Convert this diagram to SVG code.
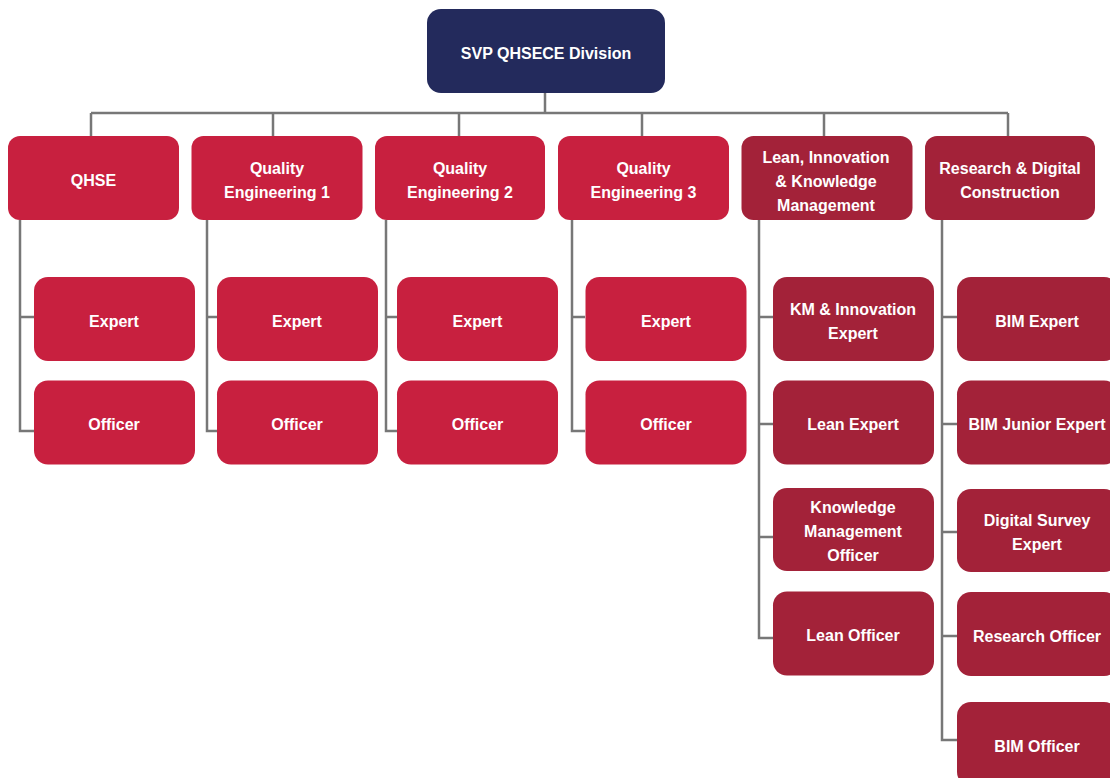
<svg xmlns="http://www.w3.org/2000/svg" width="1110" height="778" viewBox="0 0 1110 778">
<style>
.top{fill:#232a5c}
.red{fill:#c8203f}
.dark{fill:#a32239}
.t{font-family:"Liberation Sans",Arial,sans-serif;font-weight:700;font-size:16px;fill:#ffffff;text-anchor:middle;dominant-baseline:central}
.c{fill:none;stroke:#777777;stroke-width:2.5}
</style>
<rect width="1110" height="778" fill="#ffffff"/>
<g id="connectors">
<path class="c" d="M545,93V113M91,113H1008M91,113V136M273,113V136M459,113V136M642,113V136M824,113V136M1008,113V136"/>
<path class="c" d="M20,220V431H34M20,317H34"/>
<path class="c" d="M207,220V431H217M207,317H217"/>
<path class="c" d="M386,220V431H397M386,317H397"/>
<path class="c" d="M572,220V431H585M572,317H585"/>
<path class="c" d="M759,220V638H773M759,317H773M759,424H773M759,537H773"/>
<path class="c" d="M942,220V740H957M942,317H957M942,424H957M942,532H957M942,636H957"/>
</g>
<g id="n-root"><rect class="top" x="427" y="9" width="238" height="84" rx="14"/><text class="t" x="546" y="53">SVP QHSECE Division</text></g>
<g id="n-qhse"><rect class="red" x="8" y="136" width="171" height="84" rx="12"/><text class="t" x="93.5" y="180">QHSE</text></g>
<g id="n-qe1"><rect class="red" x="191.5" y="136" width="171" height="84" rx="12"/><text class="t" x="277" y="168">Quality</text><text class="t" x="277" y="192">Engineering 1</text></g>
<g id="n-qe2"><rect class="red" x="375" y="136" width="170" height="84" rx="12"/><text class="t" x="460" y="168">Quality</text><text class="t" x="460" y="192">Engineering 2</text></g>
<g id="n-qe3"><rect class="red" x="558" y="136" width="171" height="84" rx="12"/><text class="t" x="643.5" y="168">Quality</text><text class="t" x="643.5" y="192">Engineering 3</text></g>
<g id="n-likm"><rect class="dark" x="741.5" y="136" width="171" height="84" rx="12"/><text class="t" x="826" y="157">Lean, Innovation</text><text class="t" x="826" y="181">&amp; Knowledge</text><text class="t" x="826" y="205">Management</text></g>
<g id="n-rdc"><rect class="dark" x="925" y="136" width="170" height="84" rx="12"/><text class="t" x="1010" y="168">Research &amp; Digital</text><text class="t" x="1010" y="192">Construction</text></g>
<g id="n-qhse-expert"><rect class="red" x="34" y="277" width="161" height="84" rx="14"/><text class="t" x="114" y="321">Expert</text></g>
<g id="n-qhse-officer"><rect class="red" x="34" y="380.5" width="161" height="84" rx="14"/><text class="t" x="114" y="424">Officer</text></g>
<g id="n-qe1-expert"><rect class="red" x="217" y="277" width="161" height="84" rx="14"/><text class="t" x="297" y="321">Expert</text></g>
<g id="n-qe1-officer"><rect class="red" x="217" y="380.5" width="161" height="84" rx="14"/><text class="t" x="297" y="424">Officer</text></g>
<g id="n-qe2-expert"><rect class="red" x="397" y="277" width="161" height="84" rx="14"/><text class="t" x="477.5" y="321">Expert</text></g>
<g id="n-qe2-officer"><rect class="red" x="397" y="380.5" width="161" height="84" rx="14"/><text class="t" x="477.5" y="424">Officer</text></g>
<g id="n-qe3-expert"><rect class="red" x="585.5" y="277" width="161" height="84" rx="14"/><text class="t" x="666" y="321">Expert</text></g>
<g id="n-qe3-officer"><rect class="red" x="585.5" y="380.5" width="161" height="84" rx="14"/><text class="t" x="666" y="424">Officer</text></g>
<g id="n-km-innov"><rect class="dark" x="773" y="277" width="161" height="84" rx="14"/><text class="t" x="853" y="309">KM &amp; Innovation</text><text class="t" x="853" y="333">Expert</text></g>
<g id="n-lean-expert"><rect class="dark" x="773" y="380.5" width="161" height="84" rx="14"/><text class="t" x="853" y="424">Lean Expert</text></g>
<g id="n-kmo"><rect class="dark" x="773" y="488" width="161" height="83" rx="14"/><text class="t" x="853" y="507">Knowledge</text><text class="t" x="853" y="531">Management</text><text class="t" x="853" y="555">Officer</text></g>
<g id="n-lean-officer"><rect class="dark" x="773" y="591.5" width="161" height="84" rx="14"/><text class="t" x="853" y="635">Lean Officer</text></g>
<g id="n-bim-expert"><rect class="dark" x="957" y="277" width="161" height="84" rx="14"/><text class="t" x="1037" y="321">BIM Expert</text></g>
<g id="n-bim-junior"><rect class="dark" x="957" y="380.5" width="161" height="84" rx="14"/><text class="t" x="1037" y="424">BIM Junior Expert</text></g>
<g id="n-digital-survey"><rect class="dark" x="957" y="489" width="161" height="83" rx="14"/><text class="t" x="1037" y="520">Digital Survey</text><text class="t" x="1037" y="544">Expert</text></g>
<g id="n-research-officer"><rect class="dark" x="957" y="592" width="161" height="84" rx="14"/><text class="t" x="1037" y="636">Research Officer</text></g>
<g id="n-bim-officer"><rect class="dark" x="957" y="702" width="161" height="84" rx="14"/><text class="t" x="1037" y="746">BIM Officer</text></g>
</svg>
